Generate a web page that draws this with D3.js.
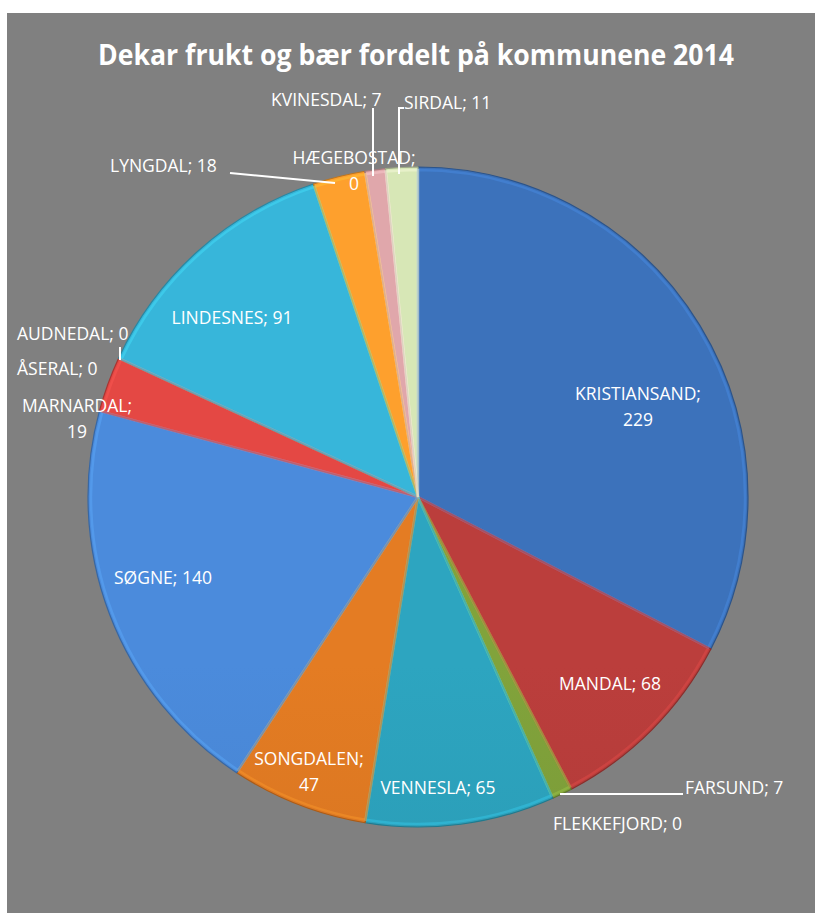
<!DOCTYPE html>
<html><head><meta charset="utf-8">
<script src="https://cdn.jsdelivr.net/npm/d3@7"></script>
<style>
html,body{margin:0;padding:0;background:#fff;}
svg{display:block;}
text{font-family:"Open Sans","DejaVu Sans",sans-serif;fill:#fff;}
</style></head>
<body><svg id="c" width="815" height="913"></svg>
<script>
const title = "Dekar frukt og bær fordelt på kommunene 2014";
const municipalities = ["KRISTIANSAND","MANDAL","FARSUND","FLEKKEFJORD","VENNESLA","SONGDALEN","SØGNE","MARNARDAL","ÅSERAL","AUDNEDAL","LINDESNES","LYNGDAL","HÆGEBOSTAD","KVINESDAL","SIRDAL"];
const values = [229,68,7,0,65,47,140,19,0,0,91,18,0,7,11];
const colors = ["#3b70b8","#b83d3b","#7fa03a","#7a5fa0","#2ca2bd","#e07a22","#4a89d8","#e04743","#3a8c9c","#e0801c","#36b3d6","#fa9d2c","#9a82bd","#dca4a8","#d3e3b3"];

// label layout: lines of text, anchor position, and optional leader line
const labelLayout = {
  "KRISTIANSAND": {lines:["KRISTIANSAND;","229"], x:638, y:400, anchor:"middle"},
  "MANDAL": {lines:["MANDAL; 68"], x:610, y:690, anchor:"middle"},
  "FARSUND": {lines:["FARSUND; 7"], x:685, y:794, anchor:"start", leader:[[560,794],[683,794]]},
  "FLEKKEFJORD": {lines:["FLEKKEFJORD; 0"], x:553, y:830, anchor:"start"},
  "VENNESLA": {lines:["VENNESLA; 65"], x:438, y:794, anchor:"middle"},
  "SONGDALEN": {lines:["SONGDALEN;","47"], x:309, y:765, anchor:"middle"},
  "SØGNE": {lines:["SØGNE; 140"], x:163, y:584, anchor:"middle"},
  "MARNARDAL": {lines:["MARNARDAL;","19"], x:77, y:412, anchor:"middle"},
  "ÅSERAL": {lines:["ÅSERAL; 0"], x:17, y:375, anchor:"start"},
  "AUDNEDAL": {lines:["AUDNEDAL; 0"], x:17, y:340, anchor:"start", leader:[[120,347],[120,360]]},
  "LINDESNES": {lines:["LINDESNES; 91"], x:232, y:324, anchor:"middle"},
  "LYNGDAL": {lines:["LYNGDAL; 18"], x:110, y:172, anchor:"start", leader:[[230,173],[335,183]]},
  "HÆGEBOSTAD": {lines:["HÆGEBOSTAD;","0"], x:354, y:164, anchor:"middle"},
  "KVINESDAL": {lines:["KVINESDAL; 7"], x:271, y:106, anchor:"start", leader:[[373,108],[373,176]]},
  "SIRDAL": {lines:["SIRDAL; 11"], x:404, y:109, anchor:"start", leader:[[404,108],[399,108],[399,174]]}
};

const svg = d3.select("#c");
svg.append("rect").attr("x",7).attr("y",13).attr("width",808).attr("height",900).attr("fill","#808080");

svg.append("text").attr("x",416).attr("y",65).attr("text-anchor","middle")
  .attr("font-size",28).attr("font-weight","bold").attr("textLength",636).attr("lengthAdjust","spacingAndGlyphs")
  .text(title);

const cx = 418, cy = 497, R = 330;
const data = municipalities.map((m,i)=>({name:m,value:values[i],color:colors[i]}));
const pie = d3.pie().value(d=>d.value).sort(null);
const arcs = pie(data);
const arc = d3.arc().innerRadius(0).outerRadius(R);

const defs = svg.append("defs");
data.forEach((d,i)=>{
  const c = d3.color(d.color);
  const g = defs.append("linearGradient").attr("id","g"+i)
    .attr("gradientUnits","userSpaceOnUse").attr("x1",0).attr("y1",cy-R).attr("x2",0).attr("y2",cy+R);
  g.append("stop").attr("offset","0%").attr("stop-color",c.brighter(0.05));
  g.append("stop").attr("offset","100%").attr("stop-color",c.darker(0.35));
});

const gp = svg.append("g").attr("transform",`translate(${cx},${cy})`);
gp.selectAll("path.slice").data(arcs).join("path").attr("class","slice")
  .attr("d",arc).attr("fill",(d,i)=>`url(#g${i})`)
  .attr("stroke",d=>d3.color(d.data.color).darker(0.8)).attr("stroke-width",1.2).attr("stroke-linejoin","round");
// bevel highlight along edges
const arcInner = d3.arc().innerRadius(0).outerRadius(R-3);
gp.selectAll("path.hl").data(arcs.filter(d=>d.value>0)).join("path").attr("class","hl")
  .attr("d",arcInner).attr("fill","none")
  .attr("stroke",d=>d3.color(d.data.color).brighter(0.7)).attr("stroke-opacity",0.4).attr("stroke-width",2.5);

// labels
const lg = svg.append("g");
data.forEach(d=>{
  const L = labelLayout[d.name];
  if(!L) return;
  if(L.leader){
    lg.append("path").attr("d",d3.line()(L.leader)).attr("fill","none").attr("stroke","#fff").attr("stroke-width",2);
  }
  const t = lg.append("text").attr("x",L.x).attr("y",L.y).attr("text-anchor",L.anchor).attr("font-size",17.5);
  L.lines.forEach((s,j)=>{
    t.append("tspan").attr("x",L.x).attr("dy",j===0?0:26).text(s);
  });
});
</script></body></html>
